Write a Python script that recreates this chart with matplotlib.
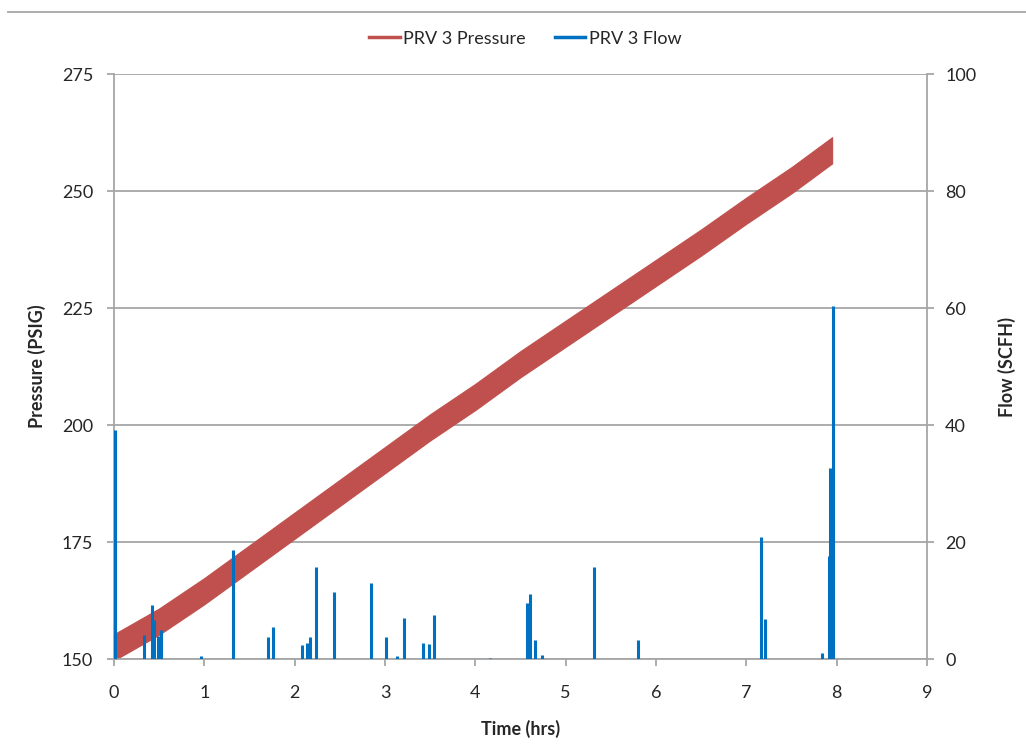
import matplotlib
matplotlib.use("Agg")
import matplotlib.pyplot as plt
from matplotlib.lines import Line2D

plt.rcParams['font.family'] = ['Lato', 'DejaVu Sans']

# pressure trace: lower / upper edge of the recorded band (psig)
hours = [0, 0.5, 1, 1.5, 2, 2.5, 3, 3.5, 4, 4.5, 5, 5.5, 6, 6.5, 7, 7.5, 7.95]
p_center = [152.5, 158, 164.5, 171.5, 178.5, 185.5, 192.5, 199.5, 206, 213,
            219.5, 226, 232.5, 239, 245.8, 252.3, 258.7]
p_half = 2.8
p_low = [p - p_half for p in p_center]
p_high = [p + p_half for p in p_center]

# flow events (hrs, scfh)
flow_t = [0.015, 0.335, 0.42, 0.445, 0.49, 0.52, 0.96, 1.32, 1.71, 1.76,
          2.08, 2.14, 2.17, 2.24, 2.44, 2.845, 3.015, 3.13, 3.21, 3.42,
          3.49, 3.545, 4.16, 4.57, 4.61, 4.66, 4.74, 5.31, 5.80, 7.16,
          7.21, 7.84, 7.91, 7.93, 7.955]
flow_v = [39.2, 4.1, 9.2, 6.7, 4.0, 5.0, 0.5, 18.6, 3.8, 5.5,
          2.4, 2.7, 3.8, 15.7, 11.5, 13.0, 3.7, 0.5, 7.0, 2.8,
          2.5, 7.6, 0.2, 9.5, 11.1, 3.2, 0.7, 15.8, 3.2, 20.9,
          6.8, 1.0, 17.6, 32.7, 60.3]

red = '#C0504D'
blue = '#0070C0'
grey = '#A6A6A6'
txt = '#262626'

fig = plt.figure(figsize=(10.26, 7.56), dpi=100)
ax = fig.add_axes([0.1111, 0.1283, 0.7924, 0.7738])
ax2 = ax.twinx()

ax.fill_between(hours, p_low, p_high, color=red, linewidth=0.8, edgecolor=red, zorder=2)
ax2.vlines(flow_t, 0, flow_v, color=blue, linewidth=2.2, zorder=3)

ax.set_xlim(0, 9)
ax.set_ylim(150, 275)
ax.set_yticks([150, 175, 200, 225, 250, 275])
ax.set_xticks(range(10))
ax2.set_ylim(0, 100)
ax2.set_yticks([0, 20, 40, 60, 80, 100])

ax.grid(axis='y', color=grey, linewidth=1.3)
ax.set_axisbelow(True)
ax2.set_zorder(ax.get_zorder() + 1)
ax2.patch.set_visible(False)

for a in (ax, ax2):
    a.spines['top'].set_visible(False)
    for s in ('left', 'right', 'bottom'):
        a.spines[s].set_color(grey)
        a.spines[s].set_linewidth(1.3)
ax.spines['right'].set_visible(False)
ax2.spines['left'].set_visible(False)
ax2.spines['bottom'].set_visible(False)

ax.tick_params(axis='y', direction='out', length=5, width=1.3, color=grey,
               labelsize=13, labelcolor=txt, pad=10)
ax.tick_params(axis='x', direction='out', length=5, width=1.3, color=grey,
               labelsize=13, labelcolor=txt, pad=14)
ax2.tick_params(axis='y', direction='out', length=5, width=1.3, color=grey,
                labelsize=13, labelcolor=txt, pad=8)

ax.set_xlabel('Time (hrs)', fontsize=13, fontweight='bold', color=txt)
ax.set_ylabel('Pressure (PSIG)', fontsize=13, fontweight='bold', color=txt)
ax2.set_ylabel('Flow (SCFH)', fontsize=13, fontweight='bold', color=txt)
ax.xaxis.set_label_coords(0.5, -0.104)
ax.yaxis.set_label_coords(-0.084, 0.5)
ax2.yaxis.set_label_coords(1.087, 0.5)

handles = [Line2D([], [], color=red, linewidth=2.5),
           Line2D([], [], color=blue, linewidth=2.5)]
fig.legend(handles, ['PRV 3 Pressure', 'PRV 3 Flow'], loc='center',
           bbox_to_anchor=(0.512, 0.949), ncol=2, frameon=False, fontsize=13,
           handlelength=1.7, handletextpad=0.2, columnspacing=1.6, labelcolor=txt)

# chart border line across the top
fig.add_artist(Line2D([8 / 1026, 1], [1 - 12 / 756] * 2, color=grey, linewidth=1.3))

fig.savefig('out.png', dpi=100)
